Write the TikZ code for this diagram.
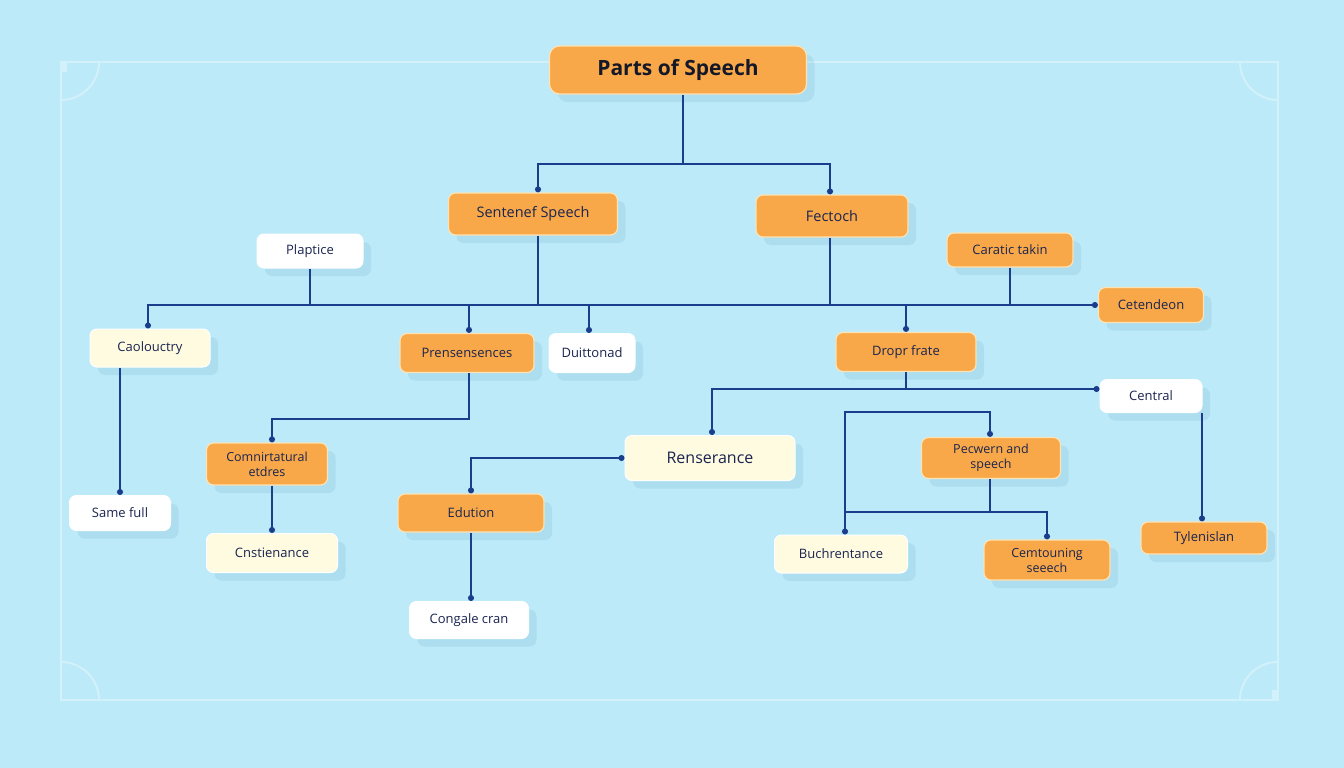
\documentclass[tikz,border=0pt]{standalone}
\usepackage{fontspec}
\setmainfont{Open Sans}
\usetikzlibrary{shadows,arrows.meta}
\definecolor{bgc}{HTML}{BCEAF8}
\definecolor{framec}{HTML}{D3F1FA}
\definecolor{orangec}{HTML}{F8A848}
\definecolor{oborder}{HTML}{FCE3B5}
\definecolor{creamc}{HTML}{FEFBE0}
\definecolor{linec}{HTML}{1C3C8C}
\definecolor{textc}{HTML}{1A2450}
\definecolor{titlec}{HTML}{151828}
\definecolor{shadc}{HTML}{5C9DC2}
\tikzset{
  box/.style={rounded corners=7pt, inner sep=0pt, align=center, text=textc,
     font=\fontsize{13}{16}\selectfont,
     drop shadow={shadow xshift=8pt, shadow yshift=-8pt, opacity=0.15, fill=shadc}},
  obox/.style={box, fill=orangec, draw=oborder, line width=1.2pt},
  cbox/.style={box, fill=creamc, draw=white, line width=1pt},
  wbox/.style={box, fill=white, draw=white, line width=1pt},
  conn/.style={draw=linec, line width=1.3pt},
  dotend/.style={conn, -{Circle[length=6pt]}},
  dotboth/.style={conn, {Circle[length=6pt]}-{Circle[length=6pt]}},
  framel/.style={draw=framec, line width=2pt}
}
\begin{document}
\begin{tikzpicture}[x=1pt,y=-1pt]
\fill[bgc] (0,0) rectangle (1344,768);
\useasboundingbox (0,0) rectangle (1344,768);
% frame
\draw[framel] (61,62) rectangle (1278,700);
\draw[framel] (99,62) .. controls (99,83) and (82,100) .. (61,100);
\draw[framel] (1240,62) .. controls (1240,83) and (1257,100) .. (1278,100);
\draw[framel] (99,700) .. controls (99,679) and (82,662) .. (61,662);
\draw[framel] (1240,700) .. controls (1240,679) and (1257,662) .. (1278,662);
\fill[framec] (62,63) rectangle (67,72);
\fill[framec] (1272,690) rectangle (1277,699);

% nodes
\node[obox, minimum width=257pt, minimum height=48pt, rounded corners=10pt, text=titlec,
      font=\fontsize{21}{24}\selectfont\bfseries] (title) at (678,70) {Parts of Speech};
\node[obox, minimum width=169pt, minimum height=42pt, font=\fontsize{14.5}{17}\selectfont] (sent) at (533,214) {Sentenef Speech};
\node[obox, minimum width=152pt, minimum height=42pt, font=\fontsize{14.5}{17}\selectfont] (fect) at (832,216) {Fectoch};
\node[wbox, minimum width=106pt, minimum height=34pt] (plap) at (310,251) {Plaptice};
\node[obox, minimum width=126pt, minimum height=34pt] (cara) at (1010,250) {Caratic takin};
\node[obox, minimum width=105pt, minimum height=35pt] (cet) at (1151,305) {Cetendeon};
\node[cbox, minimum width=120pt, minimum height=38pt] (caol) at (150,348) {Caolouctry};
\node[obox, minimum width=134pt, minimum height=39pt] (pren) at (467,353) {Prensensences};
\node[wbox, minimum width=86pt, minimum height=39pt] (duit) at (592,353) {Duittonad};
\node[obox, minimum width=140pt, minimum height=39pt] (drop) at (906,352) {Dropr frate};
\node[wbox, minimum width=102pt, minimum height=33pt] (cent) at (1151,396) {Central};
\node[obox, minimum width=121pt, minimum height=42pt, font=\fontsize{12.5}{15}\selectfont] (comn) at (267,464) {Comnirtatural\\etdres};
\node[cbox, minimum width=170pt, minimum height=45pt, font=\fontsize{16}{19}\selectfont] (rens) at (710,458) {Renserance};
\node[obox, minimum width=139pt, minimum height=41pt, font=\fontsize{12.5}{15}\selectfont] (pecw) at (991,458) {Pecwern and\\speech};
\node[wbox, minimum width=101pt, minimum height=35pt] (same) at (120,513) {Same full};
\node[obox, minimum width=146pt, minimum height=38pt] (edu) at (471,513) {Edution};
\node[obox, minimum width=126pt, minimum height=32pt] (tyl) at (1204,538) {Tylenislan};
\node[cbox, minimum width=131pt, minimum height=39pt] (cnst) at (272,553) {Cnstienance};
\node[cbox, minimum width=133pt, minimum height=38pt] (buch) at (841,554) {Buchrentance};
\node[obox, minimum width=126pt, minimum height=40pt, font=\fontsize{12.5}{15}\selectfont] (cemt) at (1047,560) {Cemtouning\\seeech};
\node[wbox, minimum width=119pt, minimum height=37pt] (cong) at (469,620) {Congale cran};

% connectors
\coordinate (tb) at (0,164);
\coordinate (bus) at (0,305);
\coordinate (dy) at (0,388);
\coordinate (b1) at (0,412);
\coordinate (b2) at (0,512);
\coordinate (p1) at (0,419);

\draw[conn] ([xshift=5pt]title.south) -- ([xshift=5pt]title.south |- tb);
\draw[dotend] ([xshift=5pt]title.south |- tb) -| ([xshift=5pt]sent.north);
\draw[dotend] ([xshift=5pt]title.south |- tb) -| ([xshift=-2pt]fect.north);

\draw[dotboth] ([xshift=-2pt]caol.north) |- (cet.west);
\draw[conn] ([xshift=5pt]sent.south) -- ([xshift=5pt]sent.south |- bus);
\draw[conn] ([xshift=-2pt]fect.south) -- ([xshift=-2pt]fect.south |- bus);
\draw[conn] (plap.south) -- (plap.south |- bus);
\draw[conn] (cara.south) -- (cara.south |- bus);
\draw[dotend] ([xshift=2pt]pren.north |- bus) -- ([xshift=2pt]pren.north);
\draw[dotend] ([xshift=-3pt]duit.north |- bus) -- ([xshift=-3pt]duit.north);
\draw[dotend] (drop.north |- bus) -- (drop.north);

\draw[dotend] (caol.south -| same.north) -- (same.north);

\draw[dotend] ([xshift=2pt]pren.south) -- ([xshift=2pt]pren.south |- p1) -| ([xshift=5pt]comn.north);
\draw[dotend] ([xshift=5pt]comn.south) -- ([xshift=5pt]comn.south |- cnst.north);

\draw[dotboth] (edu.north) |- (rens.west);
\draw[dotend] (edu.south) -- (edu.south |- cong.north);

\draw[conn] (drop.south) -- (drop.south |- dy);
\draw[dotboth] ([xshift=2pt]rens.north) |- ([yshift=7pt]cent.west);

\draw[dotboth] ([xshift=4pt]buch.north) -- ([xshift=4pt]buch.north |- b1) -| ([xshift=-1pt]pecw.north);
\draw[conn] ([xshift=-1pt]pecw.south) -- ([xshift=-1pt]pecw.south |- b2);
\draw[dotend] ([xshift=4pt]buch.north |- b2) -| (cemt.north);

\draw[dotend] ([xshift=-2pt]cent.south -| tyl.north) -- ([xshift=-2pt]tyl.north);
\end{tikzpicture}
\end{document}
